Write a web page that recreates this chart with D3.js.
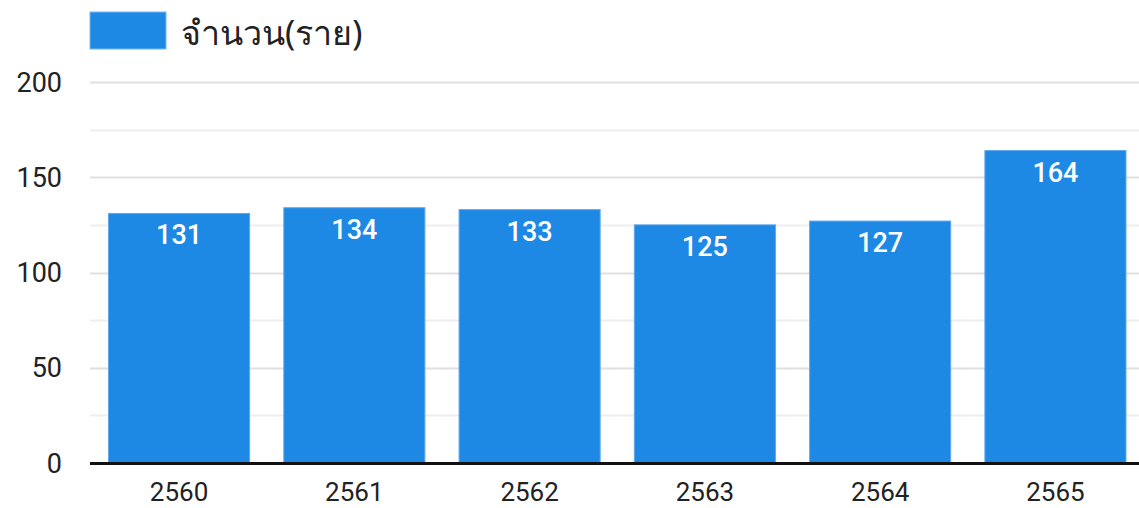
<!DOCTYPE html>
<html><head><meta charset="utf-8">
<script src="https://cdn.jsdelivr.net/npm/d3@7"></script>
<style>body{margin:0;background:#fff}svg{display:block}</style>
</head><body><div id="c"></div>
<script>
const categories = ["2560","2561","2562","2563","2564","2565"];
const values = [131,134,133,125,127,164];
const seriesName = "จำนวน(ราย)";
const yTicks = [0,50,100,150,200];
const yMinorTicks = [25,75,125,175];

const W=1139,H=508;
const svg=d3.select("#c").append("svg").attr("width",W).attr("height",H);
const font="Roboto, 'Noto Sans', sans-serif";
const y=d3.scaleLinear().domain([0,200]).range([463,82]);
const x=d3.scaleBand().domain(categories).range([91,1143.5]).paddingInner(0.195).paddingOuter(0.1);

// minor grid
svg.append("g").selectAll("line").data(yMinorTicks).join("line")
 .attr("x1",90).attr("x2",W).attr("y1",d=>Math.round(y(d))+0.5).attr("y2",d=>Math.round(y(d))+0.5)
 .attr("stroke","#eeeeee").attr("stroke-width",2);
// major grid
svg.append("g").selectAll("line").data(yTicks.slice(1)).join("line")
 .attr("x1",90).attr("x2",W).attr("y1",d=>Math.round(y(d))+0.5).attr("y2",d=>Math.round(y(d))+0.5)
 .attr("stroke","#e0e0e0").attr("stroke-width",2);

// y labels
svg.append("g").selectAll("text").data(yTicks).join("text")
 .attr("x",62).attr("y",d=>y(d)).attr("dy","0.36em").attr("text-anchor","end")
 .attr("font-family",font).attr("font-size",27).attr("fill","#222").text(d=>d);

// bars
svg.append("g").selectAll("rect").data(values).join("rect")
 .attr("x",(d,i)=>x(categories[i])).attr("width",x.bandwidth())
 .attr("y",d=>y(d)).attr("height",d=>y(0)-y(d))
 .attr("fill","#1e88e5").attr("stroke","#5fa8ec").attr("stroke-width",1);

// value labels
svg.append("g").selectAll("text").data(values).join("text")
 .attr("x",(d,i)=>x(categories[i])+x.bandwidth()/2).attr("y",d=>y(d)+31)
 .attr("text-anchor","middle").attr("font-family",font).attr("font-size",27).attr("font-weight",500)
 .attr("fill","#fff").text(d=>d);

// baseline
svg.append("line").attr("x1",90).attr("x2",W).attr("y1",y(0)+0.5).attr("y2",y(0)+0.5)
 .attr("stroke","#111").attr("stroke-width",3);

// x labels
svg.append("g").selectAll("text").data(categories).join("text")
 .attr("x",d=>x(d)+x.bandwidth()/2).attr("y",501).attr("text-anchor","middle")
 .attr("font-family",font).attr("font-size",26).attr("fill","#222").text(d=>d);

// legend
svg.append("rect").attr("x",90).attr("y",12).attr("width",76).attr("height",37)
 .attr("fill","#1e88e5").attr("stroke","#7ab8f0").attr("stroke-width",1);
svg.append("text").attr("x",181).attr("y",45).attr("font-family","'Noto Sans', Tahoma, sans-serif")
 .attr("font-size",34).attr("fill","#222").text(seriesName);
</script></body></html>
